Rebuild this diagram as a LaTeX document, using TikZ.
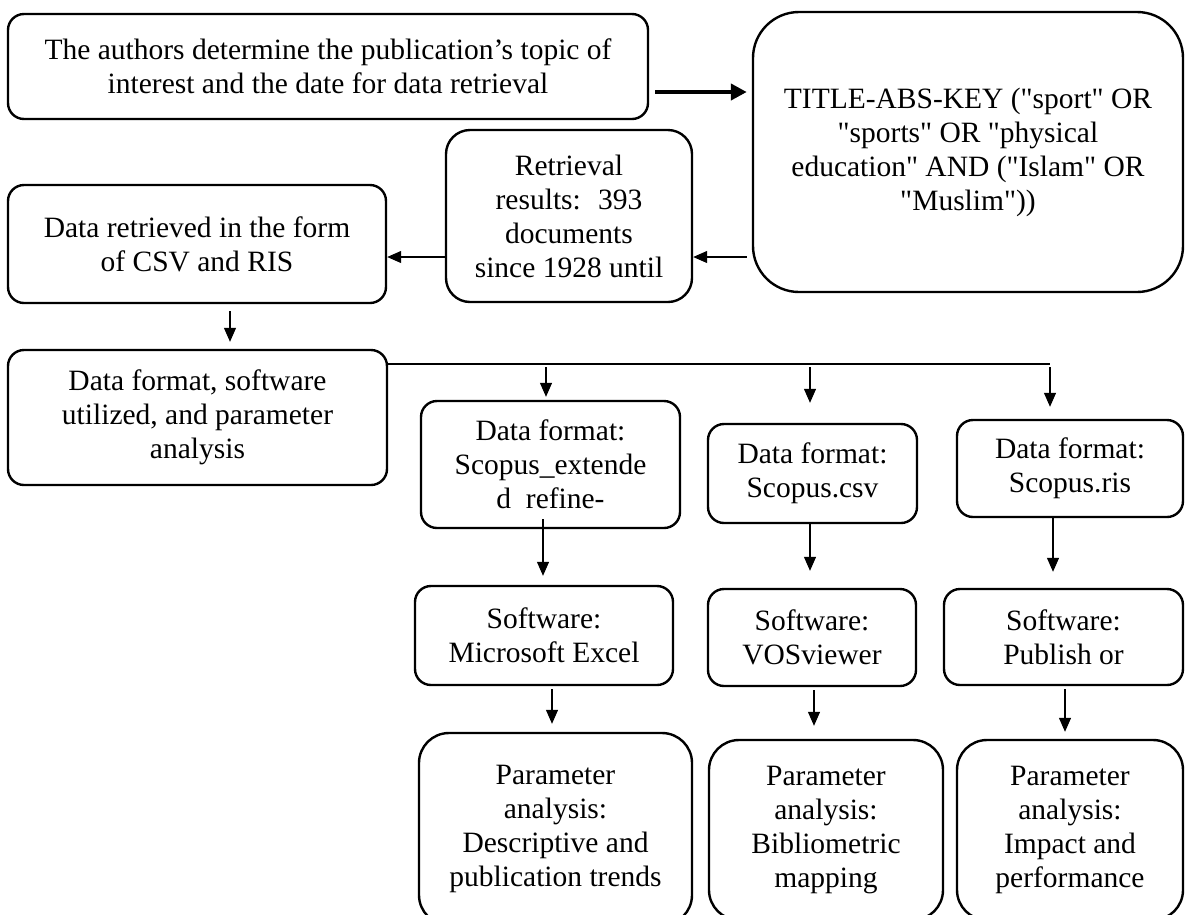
\documentclass[tikz,border=0pt]{standalone}
\usepackage{fontspec}
\setmainfont{Liberation Serif}[Ligatures=TeXOff]
\usetikzlibrary{arrows.meta}

\begin{document}
\begin{tikzpicture}[x=1pt, y=-1pt,
    every node/.style={font=\fontsize{29.5}{34}\selectfont, align=center, inner sep=0pt},
    flowbox/.style={draw, line width=2.4pt, rounded corners=16pt},
    roundbox/.style={flowbox, rounded corners=30pt},
    link/.style={line width=1.2pt, -{Triangle[length=14pt,width=12pt]}},
    boldlink/.style={line width=4.5pt, -{Triangle[length=16pt,width=16pt]}}]

    \useasboundingbox (0,0) rectangle (1186,914);
    \clip (0,0) rectangle (1186,914);

    % --- Retrieval part (top) ---
    \node[flowbox, minimum width=640pt, minimum height=105pt] (authors) at (328,66.5)
    {The authors determine the publication’s topic of\\ interest and the date for data retrieval};
    \node[flowbox, rounded corners=46pt, minimum width=430pt, minimum height=280pt] (query) at (968,152)
    {TITLE-ABS-KEY ("sport" OR\\ "sports" OR "physical\\ education" AND ("Islam" OR\\ "Muslim"))};
    \node[flowbox, rounded corners=24pt, minimum width=246pt, minimum height=172pt] (retrieval) at (569,216)
    {Retrieval\\ results:~ 393\\ documents\\ since 1928 until};
    \node[flowbox, minimum width=378pt, minimum height=118pt] (retrieved) at (197,244)
    {Data retrieved in the form\\ of CSV and RIS};
    \node[flowbox, minimum width=379pt, minimum height=135pt] (analysis) at (197.5,417.5)
    {Data format, software\\ utilized, and parameter\\ analysis};

    % --- Data formats ---
    \node[flowbox, minimum width=259pt, minimum height=127pt] (format1) at (550.5,464.5)
    {Data format:\\ Scopus\_extende\\ d~ refine-};
    \node[flowbox, minimum width=209pt, minimum height=99pt] (format2) at (812.5,473.5)
    {Data format:\\ Scopus.csv};
    \node[flowbox, minimum width=226pt, minimum height=97pt] (format3) at (1070,468.5)
    {Data format:\\ Scopus.ris};

    % --- Software ---
    \node[flowbox, minimum width=258pt, minimum height=99pt] (soft1) at (544,635.5)
    {Software:\\ Microsoft Excel};
    \node[flowbox, minimum width=208pt, minimum height=97pt] (soft2) at (812,637.5)
    {Software:\\ VOSviewer};
    \node[flowbox, minimum width=239pt, minimum height=96pt] (soft3) at (1063.5,637)
    {Software:\\ Publish or};

    % --- Parameter analysis (cut at the bottom) ---
    \node[roundbox, minimum width=273pt, minimum height=192pt] (param1) at (555.5,829)
    {Parameter\\ analysis:\\ Descriptive and\\ publication trends};
    \node[roundbox, minimum width=234pt, minimum height=180pt] (param2) at (826,830)
    {Parameter\\ analysis:\\ Bibliometric\\ mapping};
    \node[roundbox, minimum width=226pt, minimum height=180pt] (param3) at (1070,830)
    {Parameter\\ analysis:\\ Impact and\\ performance};

    % Arrows
    \coordinate (authorsout) at ([yshift=-25.5pt]authors.east);
    \draw[boldlink, shorten <=6pt, shorten >=5pt] (authorsout) -- (authorsout -| query.west);
    \coordinate (queryout) at ([yshift=-105pt]query.west);
    \draw[link, shorten <=5pt] (queryout) -- (queryout -| retrieval.east);
    \coordinate (retrievalout) at ([yshift=-41pt]retrieval.west);
    \draw[link] (retrievalout) -- (retrievalout -| retrieved.east);
    \draw[link, shorten <=7pt, shorten >=7pt] ([xshift=33pt]retrieved.south) -- ([xshift=32.5pt]analysis.north);

    % branch line to the three formats
    \coordinate (tap1) at (546,364);
    \coordinate (tap2) at (810,364);
    \coordinate (tap3) at (1050,364);
    \coordinate (bus) at (tap1 -| analysis.east);
    \draw[line width=1.2pt] (bus) -- (tap3);
    \draw[link, shorten <=3pt, shorten >=3pt] (tap1) -- (tap1 |- format1.north);
    \draw[link, shorten <=3pt, shorten >=20pt] (tap2) -- (tap2 |- format2.north);
    \draw[link, shorten <=3pt, shorten >=12pt] (tap3) -- (tap3 |- format3.north);

    \draw[link, shorten <=-10pt, shorten >=9pt] ([xshift=-7.5pt]format1.south) -- ([xshift=-1pt]soft1.north);
    \draw[link, shorten >=17pt] ([xshift=-2.5pt]format2.south) -- ([xshift=-2pt]soft2.north);
    \draw[link, shorten >=16pt] ([xshift=-17pt]format3.south) -- ([xshift=-10.5pt]soft3.north);

    \draw[link, shorten <=3pt, shorten >=8pt] ([xshift=8pt]soft1.south) -- ([xshift=-3.5pt]param1.north);
    \draw[link, shorten <=3pt, shorten >=13pt] ([xshift=2pt]soft2.south) -- ([xshift=-12pt]param2.north);
    \draw[link, shorten <=3pt, shorten >=7pt] ([xshift=1.5pt]soft3.south) -- ([xshift=-5pt]param3.north);

\end{tikzpicture}
\end{document}
